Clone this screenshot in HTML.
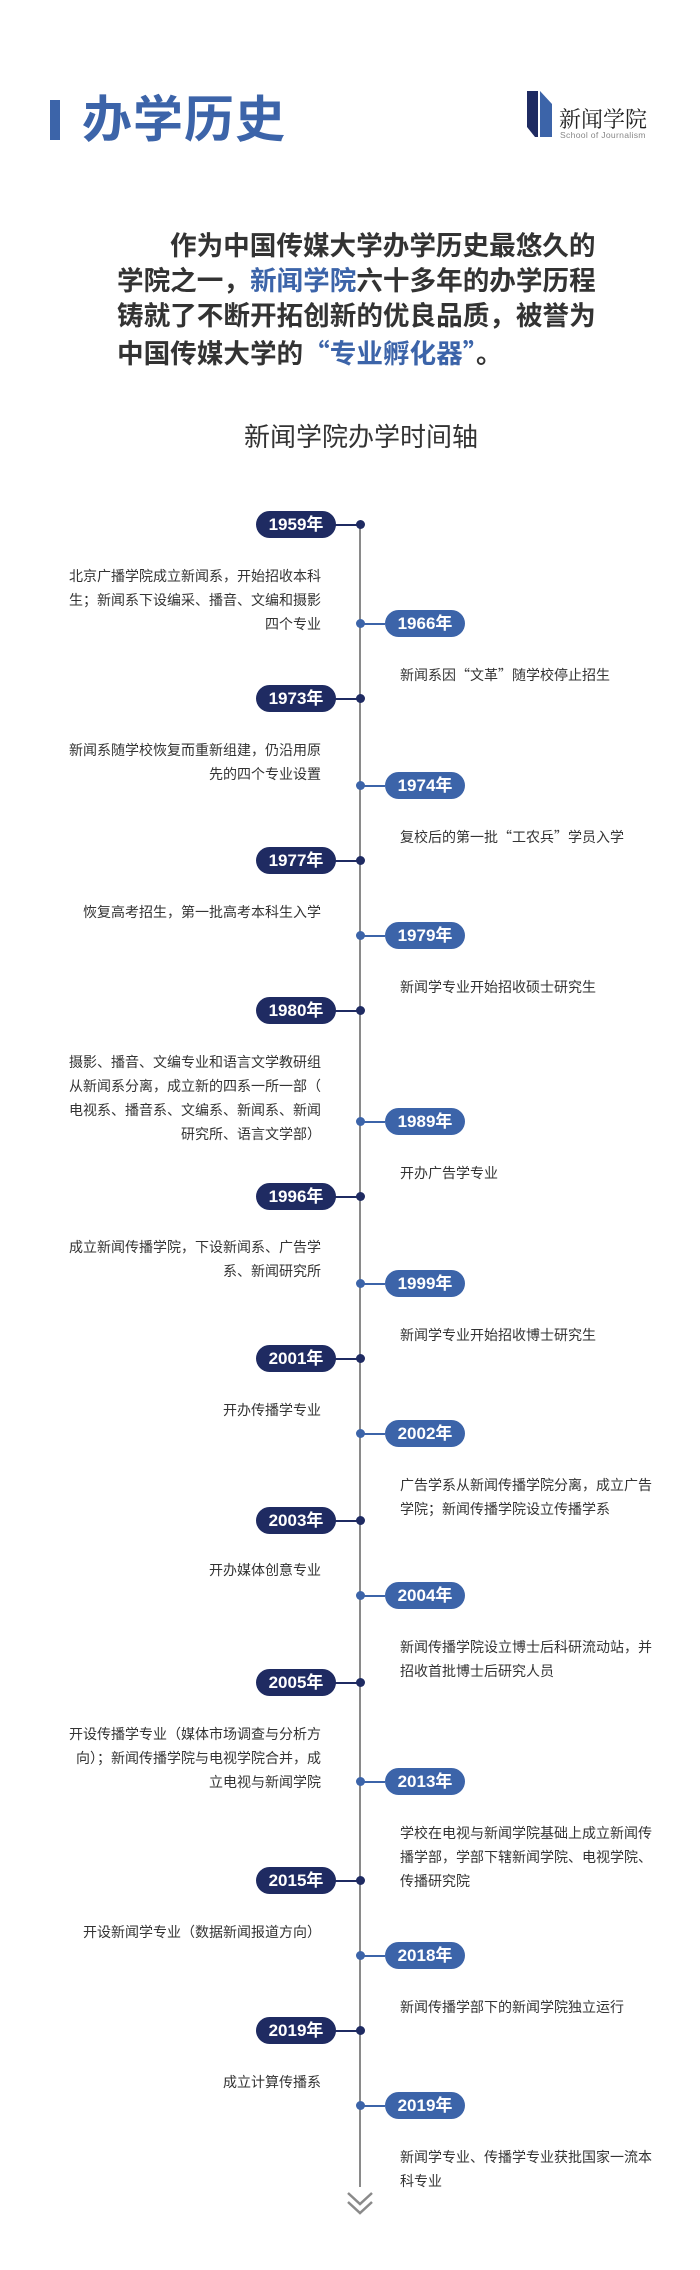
<!DOCTYPE html>
<html><head><meta charset="utf-8">
<style>
*{margin:0;padding:0;box-sizing:border-box}
body{width:700px;height:2270px;background:#fff;position:relative;overflow:hidden;font-family:"Liberation Sans","Noto Sans CJK SC",sans-serif;color:#333}
.a{position:absolute}
.q{font-family:"Noto Sans CJK SC",sans-serif}
.pl,.pr{position:absolute;width:80px;height:27px;border-radius:14px;color:#fff;font-size:17px;line-height:27px;text-align:center;font-weight:bold;font-family:"Liberation Sans Narrow","Liberation Sans","Noto Sans CJK SC",sans-serif}
.pl{left:256px;background:#1f2b62}
.pr{left:385px;background:#3c64a9}
.cl,.cr{position:absolute;height:2px}
.cl{left:335px;width:22px;background:#1f2b62}
.cr{left:363px;width:22px;background:#3c64a9}
.dl,.dr{position:absolute;left:355.5px;width:9px;height:9px;border-radius:50%}
.dl{background:#1f2b62}.dr{background:#3c64a9}
.tl,.tr{position:absolute;width:254px;font-size:14px;line-height:24px;color:#333}
.tl{left:67px;text-align:right}
.tr{left:400px;text-align:left}
</style></head><body>
<div class="a" style="left:50px;top:100px;width:10px;height:40px;background:#3c64a9"></div>
<div class="a" style="left:82px;top:88px;font-size:50px;line-height:64px;color:#3c64a9;font-weight:bold;letter-spacing:1px">办学历史</div>
<svg class="a" style="left:0;top:0" width="700" height="200">
<polygon points="527,91 538,91 538,137 535,137 527,127" fill="#1f2b62"/>
<polygon points="540,91 552,104 552,137 540,137" fill="#3c64a9"/>
</svg>
<div class="a" style="left:559px;top:106px;font-size:22px;line-height:26px;font-family:'Noto Serif CJK SC',serif;color:#222">新闻学院</div>
<div class="a" style="left:560px;top:130px;font-size:8.6px;line-height:10px;color:#888;letter-spacing:0.3px">School of Journalism</div>

<div class="a" style="left:117px;top:229px;width:484px;font-size:26.6px;line-height:35px;font-weight:bold;color:#333;text-indent:53px">作为中国传媒大学办学历史最悠久的学院之一，<span style="color:#3c64a9">新闻学院</span>六十多年的办学历程铸就了不断开拓创新的优良品质，被誉为中国传媒大学的<span class="q" style="color:#3c64a9">“专业孵化器”</span>。</div>

<div class="a" style="left:0;width:722px;top:421px;text-align:center;font-size:26px;line-height:32px;color:#333">新闻学院办学时间轴</div>

<div class="a" style="left:359px;top:525px;width:2px;height:1662px;background:#8a8a8a"></div>
<svg class="a" style="left:345px;top:2190px" width="30" height="28"><polyline points="3,3 15,14 27,3" fill="none" stroke="#8a8a8a" stroke-width="2.5"/><polyline points="3,12 15,23 27,12" fill="none" stroke="#8a8a8a" stroke-width="2.5"/></svg>

<div class="pl" style="top:511px">1959年</div><div class="cl" style="top:524px"></div><div class="dl" style="top:520px"></div>
<div class="tl" style="top:564px">北京广播学院成立新闻系，开始招收本科生；新闻系下设编采、播音、文编和摄影<br>四个专业</div>
<div class="pr" style="top:610px">1966年</div><div class="cr" style="top:623px"></div><div class="dr" style="top:619px"></div>
<div class="tr" style="top:663px">新闻系因<span class="q">“文革”</span>随学校停止招生</div>
<div class="pl" style="top:685px">1973年</div><div class="cl" style="top:698px"></div><div class="dl" style="top:694px"></div>
<div class="tl" style="top:738px">新闻系随学校恢复而重新组建，仍沿用原<br>先的四个专业设置</div>
<div class="pr" style="top:772px">1974年</div><div class="cr" style="top:785px"></div><div class="dr" style="top:781px"></div>
<div class="tr" style="top:825px">复校后的第一批<span class="q">“工农兵”</span>学员入学</div>
<div class="pl" style="top:847px">1977年</div><div class="cl" style="top:860px"></div><div class="dl" style="top:856px"></div>
<div class="tl" style="top:900px">恢复高考招生，第一批高考本科生入学</div>
<div class="pr" style="top:922px">1979年</div><div class="cr" style="top:935px"></div><div class="dr" style="top:931px"></div>
<div class="tr" style="top:975px">新闻学专业开始招收硕士研究生</div>
<div class="pl" style="top:997px">1980年</div><div class="cl" style="top:1010px"></div><div class="dl" style="top:1006px"></div>
<div class="tl" style="top:1050px">摄影、播音、文编专业和语言文学教研组<br>从新闻系分离，成立新的四系一所一部（<br>电视系、播音系、文编系、新闻系、新闻<br>研究所、语言文学部）</div>
<div class="pr" style="top:1108px">1989年</div><div class="cr" style="top:1121px"></div><div class="dr" style="top:1117px"></div>
<div class="tr" style="top:1161px">开办广告学专业</div>
<div class="pl" style="top:1183px">1996年</div><div class="cl" style="top:1196px"></div><div class="dl" style="top:1192px"></div>
<div class="tl" style="top:1235px">成立新闻传播学院，下设新闻系、广告学<br>系、新闻研究所</div>
<div class="pr" style="top:1270px">1999年</div><div class="cr" style="top:1283px"></div><div class="dr" style="top:1279px"></div>
<div class="tr" style="top:1323px">新闻学专业开始招收博士研究生</div>
<div class="pl" style="top:1345px">2001年</div><div class="cl" style="top:1358px"></div><div class="dl" style="top:1354px"></div>
<div class="tl" style="top:1398px">开办传播学专业</div>
<div class="pr" style="top:1420px">2002年</div><div class="cr" style="top:1433px"></div><div class="dr" style="top:1429px"></div>
<div class="tr" style="top:1473px">广告学系从新闻传播学院分离，成立广告学院；新闻传播学院设立传播学系</div>
<div class="pl" style="top:1507px">2003年</div><div class="cl" style="top:1520px"></div><div class="dl" style="top:1516px"></div>
<div class="tl" style="top:1558px">开办媒体创意专业</div>
<div class="pr" style="top:1582px">2004年</div><div class="cr" style="top:1595px"></div><div class="dr" style="top:1591px"></div>
<div class="tr" style="top:1635px">新闻传播学院设立博士后科研流动站，并招收首批博士后研究人员</div>
<div class="pl" style="top:1669px">2005年</div><div class="cl" style="top:1682px"></div><div class="dl" style="top:1678px"></div>
<div class="tl" style="top:1722px">开设传播学专业（媒体市场调查与分析方<br>向）；新闻传播学院与电视学院合并，成<br>立电视与新闻学院</div>
<div class="pr" style="top:1768px">2013年</div><div class="cr" style="top:1781px"></div><div class="dr" style="top:1777px"></div>
<div class="tr" style="top:1821px">学校在电视与新闻学院基础上成立新闻传播学部，学部下辖新闻学院、电视学院、传播研究院</div>
<div class="pl" style="top:1867px">2015年</div><div class="cl" style="top:1880px"></div><div class="dl" style="top:1876px"></div>
<div class="tl" style="top:1920px">开设新闻学专业（数据新闻报道方向）</div>
<div class="pr" style="top:1942px">2018年</div><div class="cr" style="top:1955px"></div><div class="dr" style="top:1951px"></div>
<div class="tr" style="top:1995px">新闻传播学部下的新闻学院独立运行</div>
<div class="pl" style="top:2017px">2019年</div><div class="cl" style="top:2030px"></div><div class="dl" style="top:2026px"></div>
<div class="tl" style="top:2070px">成立计算传播系</div>
<div class="pr" style="top:2092px">2019年</div><div class="cr" style="top:2105px"></div><div class="dr" style="top:2101px"></div>
<div class="tr" style="top:2145px">新闻学专业、传播学专业获批国家一流本科专业</div>
</body></html>
